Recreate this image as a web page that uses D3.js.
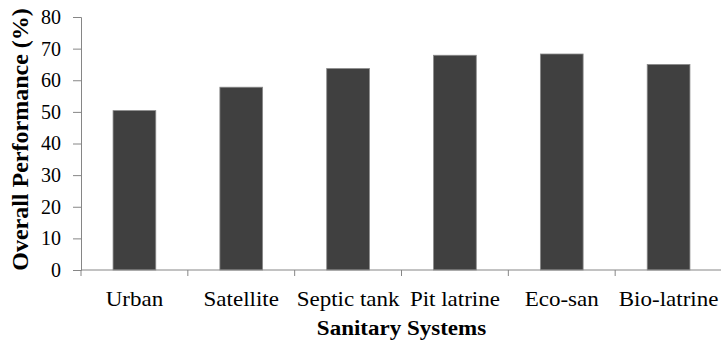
<!DOCTYPE html>
<html lang="en">
<head>
	<meta charset="UTF-8">
	<title>Sanitary Systems</title>
	<script src="https://d3js.org/d3.v7.min.js"></script>
	<style>
		body { margin: 0; background: #fff; }
		svg text { font-family: "Liberation Serif", Tinos, "Times New Roman", "DejaVu Serif", serif !important; fill: #000; }
	</style>
</head>
<body>
	<svg id="chart" width="721" height="344"></svg>
	<script>

	var categories = ["Urban", "Satellite", "Septic tank", "Pit latrine", "Eco-san", "Bio-latrine"];
	var performance = [50.4, 57.8, 63.7, 67.9, 68.3, 65.0];
	var yTicks = [0, 10, 20, 30, 40, 50, 60, 70, 80];

	var svg = d3.select("#chart"),
		margin = {top: 17, right: -1, bottom: 74, left: 81},
		width = +svg.attr("width") - margin.left - margin.right,
		height = +svg.attr("height") - margin.top - margin.bottom;

	var g = svg.append("g").attr("transform", "translate(" + margin.left + "," + margin.top + ")");

	var x = d3.scaleBand()
		.domain(categories)
		.range([0, width])
		.paddingInner(0.6)
		.paddingOuter(0.3);

	var y = d3.scaleLinear().domain([0, 80]).range([height, 0]);

	var axisColor = "#868686";

	// bars
	g.selectAll(".bar")
		.data(categories)
		.enter().append("rect")
		.attr("class", "bar")
		.attr("x", function (d) { return x(d); })
		.attr("y", function (d, i) { return y(performance[i]); })
		.attr("width", x.bandwidth())
		.attr("height", function (d, i) { return height - y(performance[i]); })
		.attr("fill", "#404040")
		.attr("stroke", "#8a8a8a")
		.attr("stroke-width", 0.8);

	// y axis
	var yAxis = g.append("g")
		.call(d3.axisLeft(y).tickValues(yTicks).tickSize(8).tickPadding(12));
	yAxis.attr("font-family", null);
	yAxis.select(".domain").attr("stroke", axisColor);
	yAxis.selectAll(".tick line").attr("stroke", axisColor);
	yAxis.selectAll(".tick text").attr("font-size", "20px");

	// x axis, ticks fall between categories
	var xAxis = g.append("g").attr("transform", "translate(0," + height + ")");
	xAxis.append("line")
		.attr("x1", 0).attr("x2", width)
		.attr("stroke", axisColor);
	var bounds = d3.range(categories.length + 1).map(function (i) { return i * x.step(); });
	xAxis.selectAll(".sep")
		.data(bounds)
		.enter().append("line")
		.attr("x1", function (d) { return d; }).attr("x2", function (d) { return d; })
		.attr("y1", 0).attr("y2", 6)
		.attr("stroke", axisColor);
	xAxis.selectAll(".lab")
		.data(categories)
		.enter().append("text")
		.attr("transform", function (d) { return "translate(" + (x(d) + x.bandwidth() / 2) + ",36) scale(1.15,1)"; })
		.attr("text-anchor", "middle")
		.attr("font-size", "20px")
		.text(function (d) { return d; });

	// axis titles
	svg.append("text")
		.attr("transform", "translate(" + (margin.left + width / 2) + ",335) scale(1.15,1)")
		.attr("text-anchor", "middle")
		.attr("font-size", "20px")
		.attr("font-weight", "bold")
		.text("Sanitary Systems");

	svg.append("text")
		.attr("transform", "translate(28," + (margin.top + height / 2 - 4) + ") rotate(-90)")
		.attr("text-anchor", "middle")
		.attr("font-size", "24px")
		.attr("font-weight", "bold")
		.text("Overall Performance (%)");

	</script>
</body>
</html>
